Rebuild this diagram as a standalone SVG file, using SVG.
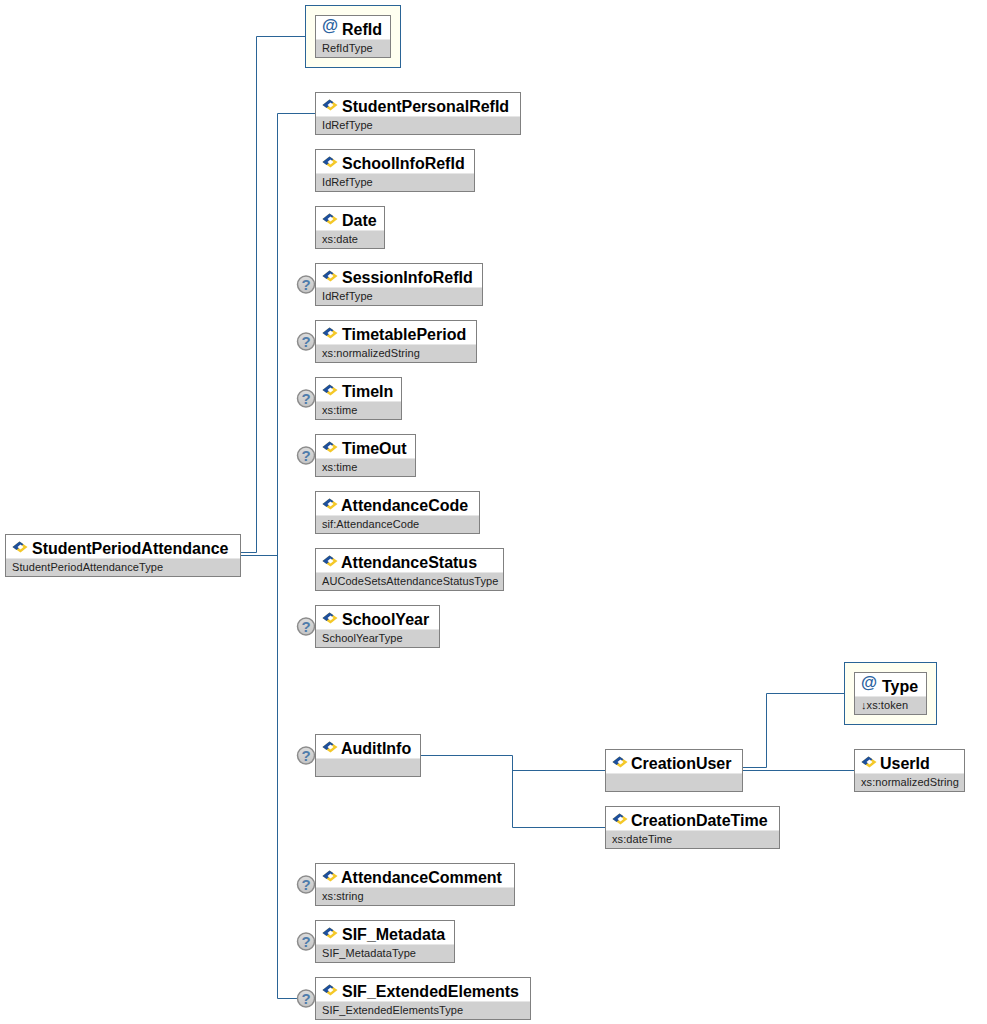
<svg xmlns="http://www.w3.org/2000/svg" width="987" height="1024" viewBox="0 0 987 1024">
<style>
.bg{fill:#fff}
.box{fill:none;stroke:#808080;stroke-width:1}
.band{fill:#d0d0d0}
.hi{fill:#e6e6e6}
.t{font:bold 16px "Liberation Sans",Arial,sans-serif;fill:#000}
.s{font:11px "Liberation Sans",Arial,sans-serif;fill:#222;letter-spacing:.07px}
.at{font:bold 16.5px "Liberation Sans",Arial,sans-serif;fill:#2a62a0}
.attr{fill:#fffff0;stroke:#2a6496;stroke-width:1}
.c{fill:none;stroke:#2a6496;stroke-width:1}
.q{font:bold 15px "Liberation Sans",Arial,sans-serif;fill:#4f7cab;text-anchor:middle}
.qc{fill:url(#qg);stroke:#8c8c8c;stroke-width:1.5}
</style>
<defs>
<linearGradient id="qg" x1="0" y1="0" x2="0" y2="1"><stop offset="0" stop-color="#dcdcdc"/><stop offset="1" stop-color="#c4c4c4"/></linearGradient>
<g id="ico">
<polygon points="0,5.500 7,0 15,5.500 8,11" fill="#f4c828"/>
<polygon points="0,5.500 7,0 11,2.800 4,8.500" fill="#1d4f9c"/>
<polygon points="5,5.500 8,3 11,5.500 8,8" fill="#fff"/>
</g>
<g id="opt"><circle cx="0" cy="0" r="8.500" class="qc"/><text x="0" y="5.500" class="q">?</text></g>
</defs>
<rect width="987" height="1024" fill="#fff"/>
<g id="connectors">
<path class="c" d="M241 552.500H256.500V36.500H305"/>
<path class="c" d="M241 555.500H277.500M277.500 113.500V998.500H298M277.500 113.500H315"/>
<path class="c" d="M421 755.500H512.500V827.500H605M512.500 770.500H605"/>
<path class="c" d="M743 767.500H766.500V693.500H844M743 770.500H854"/>
</g>
<g id="RefId"><rect class="attr" x="305.500" y="5.500" width="95" height="62"/><rect class="bg" x="315" y="15" width="76" height="24"/><rect class="band" x="315" y="39" width="76" height="18"/><rect class="hi" x="315" y="39" width="76" height="1"/><rect class="box" x="315.500" y="15.500" width="75" height="42"/><text class="at" x="322" y="30.500">@</text><text class="t" x="342" y="35">RefId</text><text class="s" x="322" y="52">RefIdType</text></g>
<g id="StudentPersonalRefId"><rect class="bg" x="315" y="92" width="206" height="24"/><rect class="band" x="315" y="116" width="206" height="18"/><rect class="hi" x="315" y="116" width="206" height="1"/><rect class="box" x="315.500" y="92.500" width="205" height="42"/><use href="#ico" x="322.500" y="99.500"/><text class="t" x="342" y="112">StudentPersonalRefId</text><text class="s" x="322" y="129">IdRefType</text></g>
<g id="SchoolInfoRefId"><rect class="bg" x="315" y="149" width="160" height="24"/><rect class="band" x="315" y="173" width="160" height="18"/><rect class="hi" x="315" y="173" width="160" height="1"/><rect class="box" x="315.500" y="149.500" width="159" height="42"/><use href="#ico" x="322.500" y="156.500"/><text class="t" x="342" y="169">SchoolInfoRefId</text><text class="s" x="322" y="186">IdRefType</text></g>
<g id="Date"><rect class="bg" x="315" y="206" width="70" height="24"/><rect class="band" x="315" y="230" width="70" height="18"/><rect class="hi" x="315" y="230" width="70" height="1"/><rect class="box" x="315.500" y="206.500" width="69" height="42"/><use href="#ico" x="322.500" y="213.500"/><text class="t" x="342" y="226">Date</text><text class="s" x="322" y="243">xs:date</text></g>
<g id="SessionInfoRefId"><rect class="bg" x="315" y="263" width="168" height="24"/><rect class="band" x="315" y="287" width="168" height="18"/><rect class="hi" x="315" y="287" width="168" height="1"/><rect class="box" x="315.500" y="263.500" width="167" height="42"/><use href="#ico" x="322.500" y="270.500"/><text class="t" x="342" y="283">SessionInfoRefId</text><text class="s" x="322" y="300">IdRefType</text><use href="#opt" x="306" y="284.500"/></g>
<g id="TimetablePeriod"><rect class="bg" x="315" y="320" width="162" height="24"/><rect class="band" x="315" y="344" width="162" height="18"/><rect class="hi" x="315" y="344" width="162" height="1"/><rect class="box" x="315.500" y="320.500" width="161" height="42"/><use href="#ico" x="322.500" y="327.500"/><text class="t" x="342" y="340">TimetablePeriod</text><text class="s" x="322" y="357">xs:normalizedString</text><use href="#opt" x="306" y="341.500"/></g>
<g id="TimeIn"><rect class="bg" x="315" y="377" width="87" height="24"/><rect class="band" x="315" y="401" width="87" height="18"/><rect class="hi" x="315" y="401" width="87" height="1"/><rect class="box" x="315.500" y="377.500" width="86" height="42"/><use href="#ico" x="322.500" y="384.500"/><text class="t" x="342" y="397">TimeIn</text><text class="s" x="322" y="414">xs:time</text><use href="#opt" x="306" y="398.500"/></g>
<g id="TimeOut"><rect class="bg" x="315" y="434" width="101" height="24"/><rect class="band" x="315" y="458" width="101" height="18"/><rect class="hi" x="315" y="458" width="101" height="1"/><rect class="box" x="315.500" y="434.500" width="100" height="42"/><use href="#ico" x="322.500" y="441.500"/><text class="t" x="342" y="454">TimeOut</text><text class="s" x="322" y="471">xs:time</text><use href="#opt" x="306" y="455.500"/></g>
<g id="AttendanceCode"><rect class="bg" x="315" y="491" width="165" height="24"/><rect class="band" x="315" y="515" width="165" height="18"/><rect class="hi" x="315" y="515" width="165" height="1"/><rect class="box" x="315.500" y="491.500" width="164" height="42"/><use href="#ico" x="322.500" y="498.500"/><text class="t" x="341" y="511">AttendanceCode</text><text class="s" x="322" y="528">sif:AttendanceCode</text></g>
<g id="AttendanceStatus"><rect class="bg" x="315" y="548" width="189" height="24"/><rect class="band" x="315" y="572" width="189" height="18"/><rect class="hi" x="315" y="572" width="189" height="1"/><rect class="box" x="315.500" y="548.500" width="188" height="42"/><use href="#ico" x="322.500" y="555.500"/><text class="t" x="341" y="568">AttendanceStatus</text><text class="s" x="322" y="585">AUCodeSetsAttendanceStatusType</text></g>
<g id="SchoolYear"><rect class="bg" x="315" y="605" width="125" height="24"/><rect class="band" x="315" y="629" width="125" height="18"/><rect class="hi" x="315" y="629" width="125" height="1"/><rect class="box" x="315.500" y="605.500" width="124" height="42"/><use href="#ico" x="322.500" y="612.500"/><text class="t" x="342" y="625">SchoolYear</text><text class="s" x="322" y="642">SchoolYearType</text><use href="#opt" x="306" y="626.500"/></g>
<g id="AuditInfo"><rect class="bg" x="315" y="734" width="106" height="24"/><rect class="band" x="315" y="758" width="106" height="18"/><rect class="hi" x="315" y="758" width="106" height="1"/><rect class="box" x="315.500" y="734.500" width="105" height="42"/><use href="#ico" x="322.500" y="741.500"/><text class="t" x="341" y="754">AuditInfo</text><use href="#opt" x="306" y="755.500"/></g>
<g id="AttendanceComment"><rect class="bg" x="315" y="863" width="200" height="24"/><rect class="band" x="315" y="887" width="200" height="18"/><rect class="hi" x="315" y="887" width="200" height="1"/><rect class="box" x="315.500" y="863.500" width="199" height="42"/><use href="#ico" x="322.500" y="870.500"/><text class="t" x="341" y="883">AttendanceComment</text><text class="s" x="322" y="900">xs:string</text><use href="#opt" x="306" y="884.500"/></g>
<g id="SIF_Metadata"><rect class="bg" x="315" y="920" width="140" height="24"/><rect class="band" x="315" y="944" width="140" height="18"/><rect class="hi" x="315" y="944" width="140" height="1"/><rect class="box" x="315.500" y="920.500" width="139" height="42"/><use href="#ico" x="322.500" y="927.500"/><text class="t" x="342" y="940">SIF_Metadata</text><text class="s" x="322" y="957">SIF_MetadataType</text><use href="#opt" x="306" y="941.500"/></g>
<g id="SIF_ExtendedElements"><rect class="bg" x="315" y="977" width="216" height="24"/><rect class="band" x="315" y="1001" width="216" height="18"/><rect class="hi" x="315" y="1001" width="216" height="1"/><rect class="box" x="315.500" y="977.500" width="215" height="42"/><use href="#ico" x="322.500" y="984.500"/><text class="t" x="342" y="997">SIF_ExtendedElements</text><text class="s" x="322" y="1014">SIF_ExtendedElementsType</text><use href="#opt" x="306" y="998.500"/></g>
<g id="StudentPeriodAttendance"><rect class="bg" x="5" y="534" width="236" height="24"/><rect class="band" x="5" y="558" width="236" height="18"/><rect class="hi" x="5" y="558" width="236" height="1"/><rect class="box" x="5.500" y="534.500" width="235" height="42"/><use href="#ico" x="12.500" y="541.500"/><text class="t" x="32" y="554">StudentPeriodAttendance</text><text class="s" x="12" y="571">StudentPeriodAttendanceType</text></g>
<g id="CreationUser"><rect class="bg" x="605" y="749" width="138" height="24"/><rect class="band" x="605" y="773" width="138" height="18"/><rect class="hi" x="605" y="773" width="138" height="1"/><rect class="box" x="605.500" y="749.500" width="137" height="42"/><use href="#ico" x="612.500" y="756.500"/><text class="t" x="631" y="769">CreationUser</text></g>
<g id="CreationDateTime"><rect class="bg" x="605" y="806" width="175" height="24"/><rect class="band" x="605" y="830" width="175" height="18"/><rect class="hi" x="605" y="830" width="175" height="1"/><rect class="box" x="605.500" y="806.500" width="174" height="42"/><use href="#ico" x="612.500" y="813.500"/><text class="t" x="631" y="826">CreationDateTime</text><text class="s" x="612" y="843">xs:dateTime</text></g>
<g id="UserId"><rect class="bg" x="854" y="749" width="111" height="24"/><rect class="band" x="854" y="773" width="111" height="18"/><rect class="hi" x="854" y="773" width="111" height="1"/><rect class="box" x="854.500" y="749.500" width="110" height="42"/><use href="#ico" x="861.500" y="756.500"/><text class="t" x="880" y="769">UserId</text><text class="s" x="861" y="786">xs:normalizedString</text></g>
<g id="Type"><rect class="attr" x="844.500" y="662.500" width="92" height="62"/><rect class="bg" x="854" y="672" width="73" height="24"/><rect class="band" x="854" y="696" width="73" height="18"/><rect class="hi" x="854" y="696" width="73" height="1"/><rect class="box" x="854.500" y="672.500" width="72" height="42"/><text class="at" x="861" y="687.500">@</text><text class="t" x="882" y="692">Type</text><text class="s" x="861" y="709">↓xs:token</text></g>
</svg>
